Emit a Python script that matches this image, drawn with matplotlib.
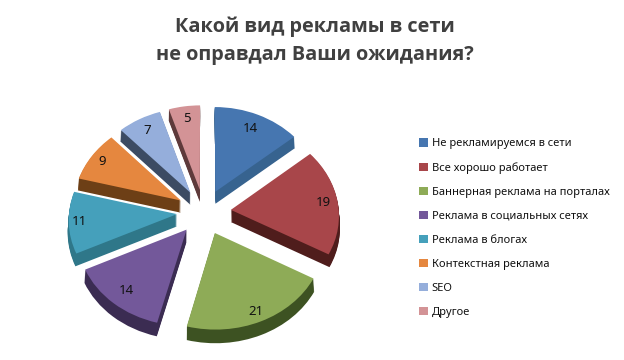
import matplotlib
matplotlib.use("Agg")
import matplotlib.pyplot as plt
import numpy as np
from matplotlib.transforms import Transform

plt.rcParams["font.family"] = ["Noto Sans", "DejaVu Sans"]

CATEGORIES = [
    "Не рекламируемся в сети",
    "Все хорошо работает",
    "Баннерная реклама на порталах",
    "Реклама в социальных сетях",
    "Реклама в блогах",
    "Контекстная реклама",
    "SEO",
    "Другое",
]
VALUES = [14, 19, 21, 14, 11, 9, 7, 5]
TITLE = "Какой вид рекламы в сети\nне оправдал Ваши ожидания?"

TOP_COLORS = ["#4676B0", "#A8464A", "#8EAB57", "#73589A", "#45A0BB", "#E5873F", "#95AEDB", "#D39396"]
WALL_COLORS = ["#37638F", "#4F1D1C", "#3D5222", "#3B2C52", "#2F7789", "#6D3F16", "#3C4B63", "#5E3A3B"]
LABEL_DIST = [0.81, 0.87, 0.89, 0.83, 0.9, 0.88, 0.84, 0.85]

W, H = 624, 360
CX, CY = 204, 212
RX, RY = 108, 89
EXPLODE = 0.25
DEPTH_PX = 12


class Tilt(Transform):
    # rough perspective: the front of the pie comes out larger than the back
    input_dims = 2
    output_dims = 2

    def transform_non_affine(self, xy):
        x, y = xy[:, 0], xy[:, 1]
        return np.column_stack([x * (1 - 0.055 * y), 1.018 * y - 0.046 * y * y])


fig = plt.figure(figsize=(W / 100, H / 100), dpi=100)
ax = fig.add_axes([0, 0, 1, 1])
explode = [EXPLODE] * len(VALUES)
tilt = Tilt() + ax.transData

# side walls: dark copies of the pie stepped downwards
for d in np.arange(DEPTH_PX, 0, -1):
    walls, _ = ax.pie(VALUES, explode=explode, colors=WALL_COLORS, startangle=90, counterclock=False,
                      center=(0, -d / RY), wedgeprops={"linewidth": 0})
    for w in walls:
        w.set_transform(tilt)

wedges, _, pct = ax.pie(VALUES, explode=explode, colors=TOP_COLORS, startangle=90, counterclock=False,
                        autopct=lambda p: f"{p:.0f}", pctdistance=0.85,
                        wedgeprops={"linewidth": 0}, textprops={"fontsize": 9.5, "color": "#111111"})
for w in wedges:
    w.set_transform(tilt)

# move the value labels out or in along each slice's middle angle
cum = np.cumsum(VALUES) - np.array(VALUES) / 2
angles = np.deg2rad(90 - 360 * cum / sum(VALUES))
for t, a, r in zip(pct, angles, LABEL_DIST):
    t.set_position(((EXPLODE + r) * np.cos(a), (EXPLODE + r) * np.sin(a)))
    t.set_transform(tilt)
    t.set_zorder(5)

ax.set_aspect("auto")
ax.set_xlim(-CX / RX, (W - CX) / RX)
ax.set_ylim((CY - H) / RY, CY / RY)

ax.legend(wedges, CATEGORIES, loc="upper left", bbox_to_anchor=(419 / W, 1 - 138 / H),
          bbox_transform=fig.transFigure, frameon=False, fontsize=8, handlelength=0.8,
          handleheight=0.8, handletextpad=0.35, labelspacing=1.16, borderpad=0, borderaxespad=0,
          labelcolor="#111111")

fig.text(315 / W, 1 - 41 / H, TITLE, ha="center", va="center", fontsize=14.3, fontweight="bold",
         family="Open Sans", color="#404040", linespacing=1.55)

fig.savefig("out.png", dpi=100)
